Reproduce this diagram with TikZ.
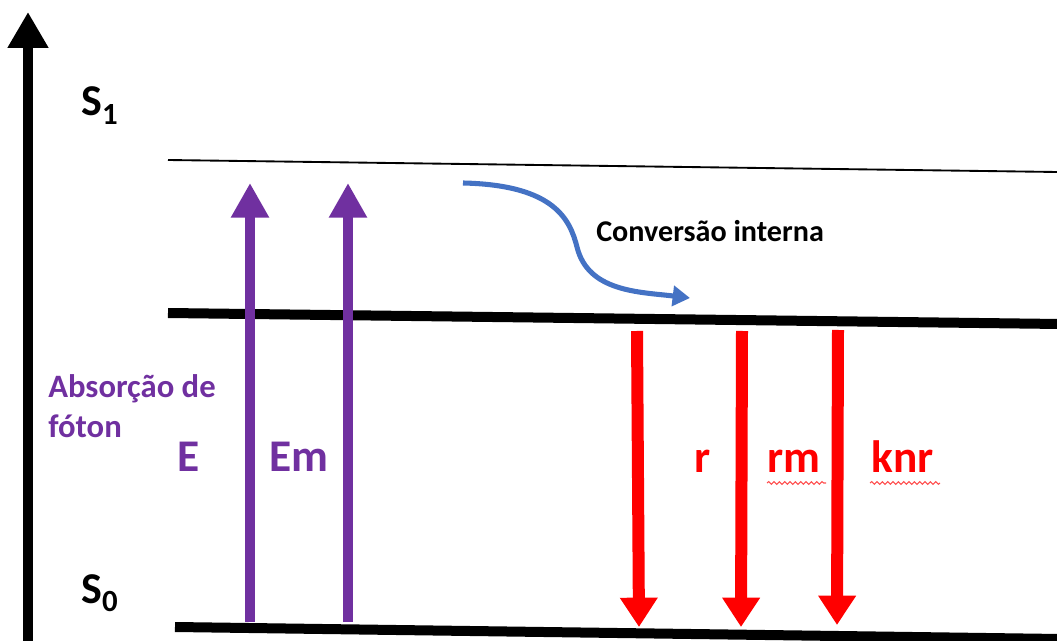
\documentclass[tikz,border=0pt]{standalone}
\usepackage{fontspec}
\setmainfont{Carlito}
\usetikzlibrary{arrows.meta,decorations.pathmorphing}
\definecolor{purp}{HTML}{7030A0}
\definecolor{bluec}{HTML}{4472C4}
\definecolor{redc}{HTML}{FF0000}
\tikzset{
  lbl/.style={inner sep=0pt, font=\bfseries},
  purparrow/.style={purp, line width=7.5pt, -{Triangle[width=27pt,length=26pt]}},
  redarrow/.style={redc, line width=9pt, -{Triangle[width=27pt,length=22pt]}},
  level/.style={line width=7.5pt},
  spell/.style={redc!70, line width=0.8pt, decorate, decoration={snake, amplitude=1pt, segment length=4pt}}
}
\begin{document}
\begin{tikzpicture}[x=0.75pt,y=-0.75pt]
\useasboundingbox (0,0) rectangle (1057,641);
% axis
\coordinate (axb) at (28,660);
\coordinate (axt) at (28,12);
\draw[line width=8.2pt, -{Triangle[width=29pt,length=27pt]}] (axb) -- (axt);
% levels
\coordinate (s1a) at (168,160); \coordinate (s1b) at (1057,172);
\draw[line width=1.4pt] (s1a) -- (s1b);
\coordinate (mida) at (168,313); \coordinate (midb) at (1060,324);
\draw[level] (mida) -- (midb);
\coordinate (s0a) at (175,627); \coordinate (s0b) at (1060,639);
\draw[level] (s0a) -- (s0b);
% state labels
\node[lbl, anchor=base west, font=\bfseries\fontsize{33}{36}\selectfont] (S1) at (81,116) {S\textsubscript{1}};
\node[lbl, anchor=base west, font=\bfseries\fontsize{33}{36}\selectfont] (S0) at (81,603) {S\textsubscript{0}};
% absorption arrows
\coordinate (pa1) at (250,622); \coordinate (pa1t) at (250,183);
\coordinate (pa2) at (348,622); \coordinate (pa2t) at (348,183);
\draw[purparrow] (pa1) -- (pa1t);
\draw[purparrow] (pa2) -- (pa2t);
\node[lbl, purp, anchor=base west, align=left, font=\bfseries\fontsize{24.5}{30}\selectfont] (abs) at (48,438) {Absorção de\\fóton};
\node[lbl, purp, anchor=base west, font=\bfseries\fontsize{34}{40}\selectfont] (E) at (177,472) {E};
\node[lbl, purp, anchor=base west, font=\bfseries\fontsize{34}{40}\selectfont] (Em) at (269,472) {Em};
% internal conversion
\coordinate (ic0) at (463,183);
\coordinate (ic1) at (577,247);
\coordinate (ic2) at (690,298);
\draw[bluec, line width=3.8pt, -{Triangle[width=15pt,length=13pt]}] (ic0) .. controls (555,185) and (570,220) .. (ic1) .. controls (588,292) and (640,292) .. (ic2);
\node[lbl, anchor=base west, font=\bfseries\fontsize{22.6}{26}\selectfont] (conv) at (596,242) {Conversão interna};
% emission arrows
\coordinate (r1) at (637,331); \coordinate (r1t) at (639,627);
\coordinate (r2) at (742,331); \coordinate (r2t) at (741,627);
\coordinate (r3) at (838,330); \coordinate (r3t) at (837,625);
\draw[redarrow] (r1) -- (r1t);
\draw[redarrow] (r2) -- (r2t);
\draw[redarrow] (r3) -- (r3t);
\node[lbl, redc, anchor=base west, font=\bfseries\fontsize{34}{40}\selectfont] (r) at (694,473) {r};
\node[lbl, redc, anchor=base west, font=\bfseries\fontsize{34}{40}\selectfont] (rm) at (767,473) {rm};
\node[lbl, redc, anchor=base west, font=\bfseries\fontsize{34}{40}\selectfont] (knr) at (871,473) {knr};
\coordinate (w1a) at (767,483); \coordinate (w1b) at (826,483);
\coordinate (w2a) at (870,483); \coordinate (w2b) at (940,483);
\draw[spell] (w1a) -- (w1b);
\draw[spell] (w2a) -- (w2b);
\end{tikzpicture}
\end{document}
